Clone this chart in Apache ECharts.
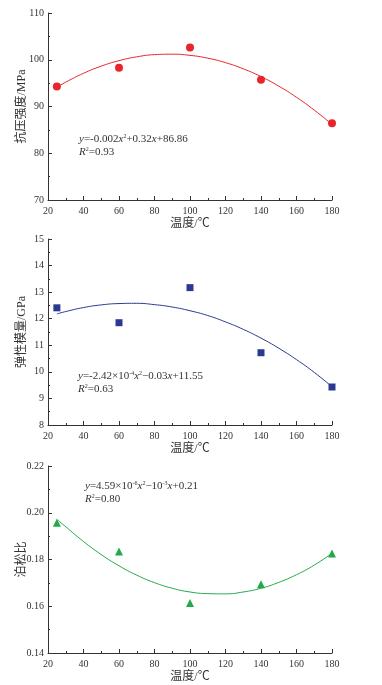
<!DOCTYPE html>
<html>
<head>
<meta charset="utf-8">
<style>html,body{margin:0;padding:0;background:#fff;}#c{width:382px;height:685px;}</style>
<script src="https://cdn.jsdelivr.net/npm/echarts@6/dist/echarts.min.js"></script>
</head>
<body>
<div id="c"></div>
<script>
const temps = [25, 60, 100, 140, 180];
const strength = [94.3, 98.3, 102.6, 95.7, 86.4];
const modulus = [12.41, 11.85, 13.17, 10.72, 9.43];
const poisson = [0.1957, 0.1834, 0.1614, 0.1694, 0.1826];

const fitX = [25, 30, 40, 50, 60, 70, 80, 90, 100, 110, 120, 130, 140, 150, 160, 170, 180];
const strengthFit = [94.14, 95.21, 97.10, 98.63, 99.80, 100.62, 101.09, 101.19, 100.94, 100.34, 99.38, 98.06, 96.39, 94.36, 91.97, 89.23, 86.2];
const modulusFit = [12.18, 12.27, 12.42, 12.52, 12.57, 12.58, 12.53, 12.44, 12.30, 12.12, 11.88, 11.60, 11.27, 10.89, 10.46, 9.98, 9.44];
const poissonFit = [0.1972, 0.1940, 0.1877, 0.1821, 0.1773, 0.1733, 0.1701, 0.1677, 0.1661, 0.1654, 0.1653, 0.1661, 0.1677, 0.1702, 0.1735, 0.1776, 0.1827];

const xTicks = {min: 20, max: 180, interval: 20};
const yTicks = [
  {min: 70, max: 110, interval: 10},
  {min: 8, max: 15, interval: 1},
  {min: 0.14, max: 0.22, interval: 0.02}
];
const xName = '温度/℃';
const yNames = ['抗压强度/MPa', '弹性模量/GPa', '泊松比'];
const eqTexts = [
  ['{i|y}=-0.002{i|x}{s|2}+0.32{i|x}+86.86', '{i|R}{s|2}=0.93'],
  ['{i|y}=-2.42×10{s|-4}{i|x}{s|2}−0.03{i|x}+11.55', '{i|R}{s|2}=0.63'],
  ['{i|y}=4.59×10{s|-6}{i|x}{s|2}−10{s|-3}{i|x}+0.21', '{i|R}{s|2}=0.80']
];

const colors = ['#e8252b', '#2b3990', '#22aa4a'];
const symbols = ['circle', 'rect', 'triangle'];
const tops = [13, 239, 466];
const heights = [187, 186, 187];
const serif = '"Liberation Serif", "Times New Roman", serif';
const cjk = '"Liberation Serif", "Noto Sans CJK SC", serif';

const grids = [], xAxes = [], yAxes = [], series = [], graphics = [];
const pts = [strength, modulus, poisson];
const fits = [strengthFit, modulusFit, poissonFit];

for (let k = 0; k < 3; k++) {
  grids.push({left: 48, right: 50, top: tops[k], height: heights[k]});
  const axisCommon = {
    axisLine: {show: true, lineStyle: {color: '#333', width: 1}},
    axisTick: {show: true, inside: true, length: 4, lineStyle: {color: '#333'}},
    minorTick: {show: true, splitNumber: 2, length: 2, lineStyle: {color: '#333'}},
    splitLine: {show: false},
    axisLabel: {color: '#333', fontFamily: serif, fontSize: 10},
    nameTextStyle: {color: '#333', fontFamily: cjk, fontSize: 12},
    nameMoveOverlap: false
  };
  xAxes.push(Object.assign({}, axisCommon, {
    type: 'value', gridIndex: k, min: xTicks.min, max: xTicks.max, interval: xTicks.interval,
    name: xName, nameLocation: 'middle', nameGap: 18,
    axisLabel: Object.assign({}, axisCommon.axisLabel, {margin: 6})
  }));
  yAxes.push(Object.assign({}, axisCommon, {
    type: 'value', gridIndex: k, min: yTicks[k].min, max: yTicks[k].max, interval: yTicks[k].interval,
    name: yNames[k], nameLocation: 'middle', nameGap: 20,
    axisLabel: Object.assign({}, axisCommon.axisLabel, {margin: 4,
      formatter: k === 2 ? (v => v.toFixed(2)) : null})
  }));
  series.push({
    type: 'line', xAxisIndex: k, yAxisIndex: k, smooth: true, showSymbol: false,
    data: fitX.map((x, i) => [x, fits[k][i]]),
    lineStyle: {color: colors[k], width: 1}, z: 2, silent: true
  });
  series.push({
    type: 'scatter', xAxisIndex: k, yAxisIndex: k, symbol: symbols[k],
    symbolSize: k === 1 ? 7 : 8,
    data: temps.map((x, i) => [x, pts[k][i]]),
    itemStyle: {color: colors[k], opacity: 1}, z: 3
  });
}

const eqPos = [[79, 140], [78, 377], [85, 487]];
const rich = {
  i: {fontStyle: 'italic', fontFamily: serif, fontSize: 11, fill: '#333'},
  s: {fontFamily: serif, fontSize: 6, fill: '#333', padding: [0, 0, 6, 0]}
};
for (let k = 0; k < 3; k++) {
  for (let j = 0; j < 2; j++) {
    graphics.push({
      type: 'text', left: eqPos[k][0], top: eqPos[k][1] + j * 13 - 7,
      style: {text: eqTexts[k][j], rich: rich, fontFamily: serif, fontSize: 11, fill: '#333'}
    });
  }
}

const chart = echarts.init(document.getElementById('c'), null, {renderer: 'canvas'});
chart.setOption({
  animation: false,
  backgroundColor: '#fff',
  grid: grids, xAxis: xAxes, yAxis: yAxes, series: series, graphic: graphics
});
</script>
</body>
</html>
